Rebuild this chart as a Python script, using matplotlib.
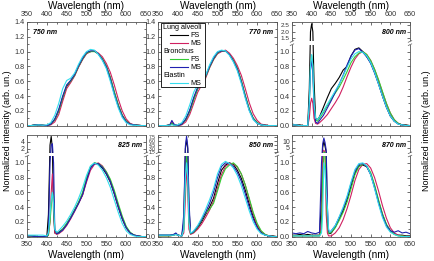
import numpy as np
import matplotlib
matplotlib.use("Agg")
import matplotlib.pyplot as plt
from matplotlib.lines import Line2D
from matplotlib.patches import Rectangle

plt.rcParams['font.family'] = ['Liberation Sans', 'DejaVu Sans']

series_names = ["Lung alveoli FS", "Lung alveoli MS", "Bronchus FS", "Bronchus MS", "Elastin MS"]
series_colors = ["#000000", "#d02060", "#33cc33", "#2020b0", "#33ddee"]
panel_titles = ["750 nm", "770 nm", "800 nm", "825 nm", "850 nm", "870 nm"]

# ---------------- 750 nm ----------------
wl750 = [350,360,370,380,390,400,410,420,430,440,450,460,470,480,490,500,510,520,530,540,550,560,570,580,590,600,610,620,630,640,650]
a_fs_750 = [0,0,0.01,0.01,0.005,0,0.02,0.08,0.2,0.38,0.53,0.6,0.68,0.8,0.9,0.98,1.0,1.01,0.97,0.9,0.8,0.65,0.45,0.28,0.14,0.06,0.02,0.01,0.005,0,0]
a_ms_750 = [0,0,0.005,0.01,0.005,0,0.01,0.05,0.15,0.33,0.5,0.58,0.67,0.79,0.89,0.97,1.0,1.01,0.98,0.93,0.84,0.72,0.55,0.36,0.2,0.09,0.03,0.01,0.005,0,0]
b_fs_750 = [0,0,0.01,0.01,0.005,0,0.02,0.08,0.2,0.38,0.54,0.6,0.68,0.8,0.9,0.98,1.0,1.0,0.97,0.9,0.8,0.65,0.46,0.28,0.14,0.06,0.02,0.01,0.005,0,0]
b_ms_750 = [0,0,0.01,0.01,0.005,0,0.02,0.09,0.22,0.4,0.55,0.61,0.69,0.81,0.91,0.99,1.01,1.01,0.97,0.89,0.79,0.63,0.43,0.26,0.13,0.05,0.02,0.01,0.005,0,0]
e_ms_750 = [0,0,0.005,0.01,0.005,0.01,0.04,0.14,0.3,0.5,0.61,0.64,0.71,0.83,0.93,1.0,1.03,1.02,0.96,0.88,0.77,0.6,0.41,0.24,0.11,0.04,0.01,0.005,0,0,0]

# ---------------- 770 nm ----------------
wl770 = [350,360,370,380,385,390,400,410,420,430,440,450,460,470,480,490,500,510,520,530,540,550,560,570,580,590,600,610,620,630,640,650]
a_fs_770 = [0,0,0,0.01,0.03,0.01,0,0.02,0.08,0.2,0.36,0.5,0.58,0.66,0.79,0.9,0.98,1.01,1.01,0.96,0.88,0.77,0.6,0.4,0.22,0.1,0.04,0.01,0.005,0,0,0]
a_ms_770 = [0,0,0,0.01,0.06,0.02,0,0.01,0.05,0.15,0.3,0.45,0.55,0.64,0.78,0.89,0.97,1.0,1.02,0.98,0.91,0.81,0.68,0.5,0.31,0.16,0.07,0.02,0.01,0,0,0]
b_fs_770 = [0,0,0,0.01,0.03,0.01,0,0.02,0.08,0.19,0.35,0.5,0.58,0.66,0.79,0.9,0.98,1.01,1.01,0.96,0.88,0.77,0.61,0.41,0.23,0.1,0.04,0.01,0.005,0,0,0]
b_ms_770 = [0,0,0,0.01,0.07,0.02,0,0.02,0.09,0.21,0.38,0.52,0.6,0.67,0.8,0.91,0.99,1.01,1.01,0.96,0.87,0.76,0.59,0.39,0.21,0.09,0.03,0.01,0.005,0,0,0]
e_ms_770 = [0,0,0,0.005,0.01,0.005,0.01,0.04,0.13,0.28,0.45,0.56,0.61,0.68,0.82,0.93,1.0,1.02,1.01,0.95,0.86,0.74,0.57,0.37,0.2,0.08,0.03,0.01,0,0,0,0]

# ---------------- 800 nm ----------------
wl800 = [350,360,370,380,390,394,397,400,403,406,410,415,420,430,440,450,460,470,480,490,500,510,520,530,540,550,560,570,580,590,600,610,620,630,640,650]
a_fs_800 = [0.02,0.01,0.01,0.0,0.0,0.5,2.0,2.62,2.0,0.6,0.1,0.08,0.12,0.25,0.38,0.5,0.57,0.65,0.75,0.8,0.94,1.03,1.05,1.0,0.93,0.85,0.72,0.57,0.4,0.25,0.13,0.06,0.03,0.01,0.01,0.0]
a_ms_800 = [0.01,0.01,0.0,0.0,0.0,0.1,0.3,0.37,0.3,0.1,0.03,0.02,0.04,0.09,0.15,0.23,0.31,0.4,0.52,0.66,0.79,0.9,0.97,1.0,0.96,0.88,0.76,0.61,0.45,0.3,0.17,0.08,0.03,0.01,0.0,0.0]
b_fs_800 = [0.01,0.01,0.0,0.0,0.0,0.3,0.8,0.95,0.8,0.3,0.08,0.06,0.1,0.18,0.27,0.36,0.44,0.52,0.62,0.73,0.85,0.93,0.98,1.0,0.96,0.88,0.76,0.62,0.46,0.3,0.17,0.08,0.03,0.01,0.0,0.0]
b_ms_800 = [0.01,0.01,0.0,0.0,0.0,0.3,0.75,0.9,0.7,0.25,0.05,0.03,0.07,0.14,0.24,0.34,0.45,0.56,0.68,0.82,0.94,1.02,1.04,0.99,0.93,0.84,0.71,0.56,0.4,0.25,0.13,0.06,0.02,0.01,0.0,0.0]
e_ms_800 = [0.01,0.01,0.0,0.0,0.0,0.3,0.8,0.96,0.8,0.3,0.1,0.08,0.12,0.2,0.29,0.38,0.47,0.56,0.67,0.79,0.9,0.97,1.0,0.99,0.94,0.85,0.72,0.56,0.4,0.25,0.13,0.06,0.02,0.01,0.0,0.0]

# ---------------- 825 nm ----------------
wl825 = [350,360,370,380,390,400,404,408,411,414,417,420,425,430,440,450,460,470,480,490,500,510,520,530,540,550,560,570,580,590,600,610,620,630,640,650]
a_fs_825 = [0.01,0.01,0.01,0.0,0.0,0.0,0.3,3.0,5.5,2.0,0.3,0.05,0.04,0.06,0.1,0.17,0.26,0.36,0.46,0.57,0.77,0.94,1.0,0.98,0.93,0.85,0.74,0.58,0.4,0.24,0.12,0.05,0.02,0.01,0.0,0.0]
a_ms_825 = [0.01,0.01,0.0,0.0,0.0,0.0,0.02,0.2,0.6,0.85,0.5,0.05,0.03,0.04,0.08,0.15,0.24,0.34,0.45,0.56,0.74,0.9,0.98,1.0,0.96,0.88,0.76,0.6,0.42,0.26,0.13,0.05,0.02,0.01,0.0,0.0]
b_fs_825 = [0.01,0.01,0.0,0.0,0.0,0.0,0.02,0.2,0.4,0.6,0.55,0.1,0.04,0.05,0.1,0.18,0.26,0.36,0.47,0.6,0.8,0.95,1.0,0.99,0.95,0.88,0.78,0.63,0.45,0.28,0.14,0.06,0.02,0.01,0.0,0.0]
b_ms_825 = [0.01,0.01,0.0,0.0,0.0,0.0,0.05,1.0,3.0,3.4,1.0,0.1,0.04,0.05,0.09,0.16,0.25,0.35,0.45,0.57,0.76,0.93,0.99,0.99,0.94,0.86,0.75,0.59,0.41,0.25,0.12,0.05,0.02,0.01,0.0,0.0]
e_ms_825 = [0.02,0.02,0.02,0.02,0.02,0.01,0.05,0.3,0.5,0.6,0.45,0.1,0.06,0.08,0.14,0.21,0.3,0.4,0.52,0.66,0.83,0.96,1.0,0.97,0.9,0.8,0.67,0.5,0.33,0.18,0.08,0.03,0.01,0.0,0.0,0.0]

# ---------------- 850 nm ----------------
wl850 = [350,360,370,380,390,395,400,410,415,419,422,425,428,432,436,440,450,460,470,480,490,500,510,520,530,540,550,560,570,580,590,600,610,620,630,640,650]
a_fs_850 = [0.02,0.02,0.02,0.02,0.03,0.04,0.02,0.01,0.2,3.0,6.7,3.0,0.4,0.05,0.05,0.06,0.12,0.2,0.3,0.4,0.52,0.72,0.9,0.97,1.0,0.98,0.9,0.79,0.63,0.44,0.27,0.14,0.06,0.02,0.01,0.01,0.0]
a_ms_850 = [0.01,0.01,0.01,0.01,0.02,0.03,0.02,0.01,0.05,0.5,1.0,0.6,0.1,0.03,0.04,0.05,0.1,0.17,0.26,0.36,0.48,0.66,0.84,0.95,0.99,0.99,0.94,0.85,0.7,0.5,0.31,0.16,0.07,0.03,0.01,0.0,0.0]
b_fs_850 = [0.01,0.01,0.01,0.01,0.02,0.03,0.02,0.01,0.1,0.8,1.2,0.9,0.2,0.04,0.05,0.06,0.13,0.22,0.32,0.37,0.45,0.62,0.8,0.92,0.97,1.0,0.95,0.85,0.7,0.52,0.33,0.18,0.08,0.03,0.01,0.0,0.0]
b_ms_850 = [0.02,0.02,0.02,0.02,0.03,0.05,0.02,0.01,0.3,4.0,8.0,4.0,0.5,0.05,0.05,0.07,0.14,0.23,0.33,0.45,0.6,0.8,0.95,1.0,0.99,0.95,0.87,0.75,0.58,0.4,0.24,0.12,0.05,0.02,0.01,0.0,0.0]
e_ms_850 = [0.02,0.02,0.02,0.02,0.02,0.03,0.02,0.01,0.1,0.8,1.0,0.8,0.2,0.05,0.06,0.08,0.15,0.25,0.37,0.5,0.65,0.85,0.98,1.02,0.99,0.93,0.83,0.69,0.52,0.35,0.2,0.1,0.04,0.02,0.01,0.0,0.0]

# ---------------- 870 nm ----------------
wl870 = [350,360,370,380,390,400,410,420,425,428,431,434,437,440,443,446,450,460,470,480,490,500,510,520,530,540,550,560,570,580,590,600,610,620,630,640,650]
a_fs_870 = [0.02,0.02,0.03,0.02,0.03,0.02,0.02,0.02,0.5,5.0,10.0,6.0,1.5,0.2,0.05,0.04,0.05,0.13,0.25,0.35,0.5,0.68,0.86,0.96,0.97,0.95,0.85,0.68,0.48,0.3,0.16,0.08,0.04,0.02,0.02,0.01,0.01]
a_ms_870 = [0.01,0.01,0.01,0.01,0.01,0.01,0.01,0.01,0.2,1.5,3.0,1.5,0.3,0.05,0.01,0.01,0.01,0.05,0.12,0.23,0.38,0.56,0.76,0.91,0.98,0.99,0.93,0.8,0.62,0.42,0.25,0.12,0.05,0.02,0.01,0.0,0.0]
b_fs_870 = [0.01,0.01,0.01,0.01,0.01,0.01,0.01,0.01,0.1,0.8,1.6,1.2,0.6,0.2,0.05,0.05,0.06,0.12,0.22,0.33,0.47,0.65,0.84,0.95,0.98,0.96,0.87,0.7,0.5,0.31,0.17,0.08,0.03,0.01,0.01,0.0,0.0]
b_ms_870 = [0.05,0.04,0.05,0.04,0.07,0.05,0.04,0.06,1.0,8.0,12.5,9.0,3.0,0.4,0.08,0.06,0.08,0.15,0.26,0.38,0.53,0.72,0.89,0.98,0.99,0.95,0.84,0.66,0.46,0.28,0.15,0.08,0.06,0.08,0.05,0.06,0.04]
e_ms_870 = [0.01,0.01,0.01,0.01,0.01,0.01,0.01,0.01,0.05,0.3,1.0,0.9,0.6,0.4,0.1,0.06,0.08,0.15,0.27,0.4,0.55,0.74,0.91,0.99,1.0,0.96,0.84,0.65,0.44,0.26,0.13,0.06,0.03,0.01,0.0,0.0,0.0]

panels = [
    (wl750, [a_fs_750, a_ms_750, b_fs_750, b_ms_750, e_ms_750]),
    (wl770, [a_fs_770, a_ms_770, b_fs_770, b_ms_770, e_ms_770]),
    (wl800, [a_fs_800, a_ms_800, b_fs_800, b_ms_800, e_ms_800]),
    (wl825, [a_fs_825, a_ms_825, b_fs_825, b_ms_825, e_ms_825]),
    (wl850, [a_fs_850, a_ms_850, b_fs_850, b_ms_850, e_ms_850]),
    (wl870, [a_fs_870, a_ms_870, b_fs_870, b_ms_870, e_ms_870]),
]

# broken-axis settings: (break value, upper start, compression, ymax, upper ticks, fmt, label size)
breaks = [
    None,
    None,
    (1.1, 1.05, 0.176, 2.75, [1.5, 2.0, 2.5], "%.1f", 4.6),
    (1.1, 0.0, 0.0473, 5.9, [2, 4], "%d", 5),
    (1.1, 0.3, 0.0338, 8.5, [1.5, 3.0, 4.5, 6.0, 7.5], "%.1f", 3.6),
    (1.1, -1.0, 0.0176, 14.8, [5, 10], "%d", 5),
]

def make_scale(b, y0, k):
    def fwd(y):
        y = np.asarray(y, dtype=float)
        return np.where(y <= b, y, b + (y - y0) * k)
    def inv(t):
        t = np.asarray(t, dtype=float)
        return np.where(t <= b, t, np.maximum(y0 + (t - b) / k, b))
    return fwd, inv

W, H = 435, 261
fig = plt.figure(figsize=(W / 100, H / 100), dpi=100)

col_x = [27, 158, 292]
col_w = [119, 119, 118]
row_y = [(22, 126), (135, 237)]

TICK_FS = 5.2
for i, (wl, ys) in enumerate(panels):
    r, c = divmod(i, 3)
    x0 = col_x[c] / W
    w = col_w[c] / W
    top, bot = row_y[r]
    ax = fig.add_axes([x0, 1 - bot / H, w, (bot - top) / H])
    brk = breaks[i]
    if brk is not None:
        b, y0, k, ymax, uticks, fmt, ufs = brk
        fwd, inv = make_scale(b, y0, k)
        ax.set_yscale('function', functions=(fwd, inv))
    for y, col in zip(ys, series_colors):
        ax.plot(wl, y, color=col, lw=0.8)
    ax.set_xlim(350, 650)
    ax.set_xticks([350, 400, 450, 500, 550, 600, 650])
    ax.set_xticks(np.arange(375, 650, 50), minor=True)
    ax.tick_params(which='both', direction='in', top=True, right=True,
                   labelsize=TICK_FS, pad=1.5, width=0.5, colors='#333333')
    ax.tick_params(axis='x', which='both', pad=2.6)
    ax.tick_params(which='major', length=2.2)
    ax.tick_params(which='minor', length=1.2)
    if brk is None:
        ax.set_ylim(-0.005, 1.4)
        ticks = [0.0, 0.2, 0.4, 0.6, 0.8, 1.0, 1.2, 1.4]
        ax.set_yticks(ticks)
        ax.set_yticklabels(["%.1f" % t for t in ticks])
        ax.set_yticks(np.arange(0.1, 1.4, 0.2), minor=True)
    else:
        ax.set_ylim(-0.005, ymax)
        lt = [0.0, 0.2, 0.4, 0.6, 0.8, 1.0]
        ax.set_yticks(lt + list(uticks))
        labs = ax.set_yticklabels(["%.1f" % t for t in lt] + [fmt % t for t in uticks])
        for lab in labs[len(lt):]:
            lab.set_fontsize(ufs)
        ax.set_yticks([0.1, 0.3, 0.5, 0.7, 0.9], minor=True)
        # break band
        f_lo = float(fwd(-0.005)); f_hi = float(fwd(ymax))
        frac = (b - f_lo) / (f_hi - f_lo)
        ph = 1.0 / (bot - top)
        ax.add_patch(Rectangle((-0.03, frac - 0.5 * ph), 1.06, 3.2 * ph,
                               transform=ax.transAxes, facecolor='white',
                               edgecolor='none', zorder=3, clip_on=False))
        for xs in (0.0, 1.0):
            for dy in (-0.5 * ph, 2.7 * ph):
                ax.plot([xs - 0.015, xs + 0.015], [frac + dy - 0.8 * ph, frac + dy + 0.8 * ph],
                        transform=ax.transAxes, color='#555555', lw=0.5,
                        clip_on=False, zorder=4)
    for sp in ax.spines.values():
        sp.set_linewidth(0.6)
        sp.set_color('#555555')
    if r == 0:
        ax.tick_params(labeltop=True, labelbottom=False)
        ax.xaxis.set_label_position('top')
    ax.set_xlabel("Wavelength (nm)", fontsize=7.2, labelpad=1.5)
    if i == 0:
        ax.text(0.05, 0.93, panel_titles[i], transform=ax.transAxes, fontsize=5,
                fontweight='bold', fontstyle='italic', ha='left', va='top')
    else:
        ax.text(0.97, 0.93, panel_titles[i], transform=ax.transAxes, fontsize=5,
                fontweight='bold', fontstyle='italic', ha='right', va='top')

    if i == 1:
        # grouped legend
        bx0, bx1 = 0.025, 0.395
        by0, by1 = 0.375, 0.99
        ax.add_patch(Rectangle((bx0, by0), bx1 - bx0, by1 - by0, transform=ax.transAxes,
                               facecolor='white', edgecolor='black', lw=0.6, zorder=5))
        rows = [("Lung alveoli", None), ("FS", 0), ("MS", 1), ("Bronchus", None),
                ("FS", 2), ("MS", 3), ("Elastin", None), ("MS", 4)]
        step = (by1 - by0) / 8.0
        for j, (lab, si) in enumerate(rows):
            yy = by1 - step * (j + 0.55)
            if si is None:
                ax.text(bx0 + 0.02, yy, lab, transform=ax.transAxes, fontsize=5.2,
                        ha='left', va='center', zorder=6)
            else:
                ax.add_line(Line2D([bx0 + 0.08, bx0 + 0.225], [yy, yy], transform=ax.transAxes,
                                   color=series_colors[si], lw=0.8, zorder=6))
                ax.text(bx0 + 0.245, yy, lab, transform=ax.transAxes, fontsize=5.2,
                        ha='left', va='center', zorder=6)

fig.text(8 / W, 0.5, "Normalized intensity (arb. un.)", rotation=90, fontsize=6.5,
         ha='center', va='center')
fig.text(427 / W, 0.5, "Normalized intensity (arb. un.)", rotation=90, fontsize=6.5,
         ha='center', va='center')

fig.savefig("out.png", dpi=100)
